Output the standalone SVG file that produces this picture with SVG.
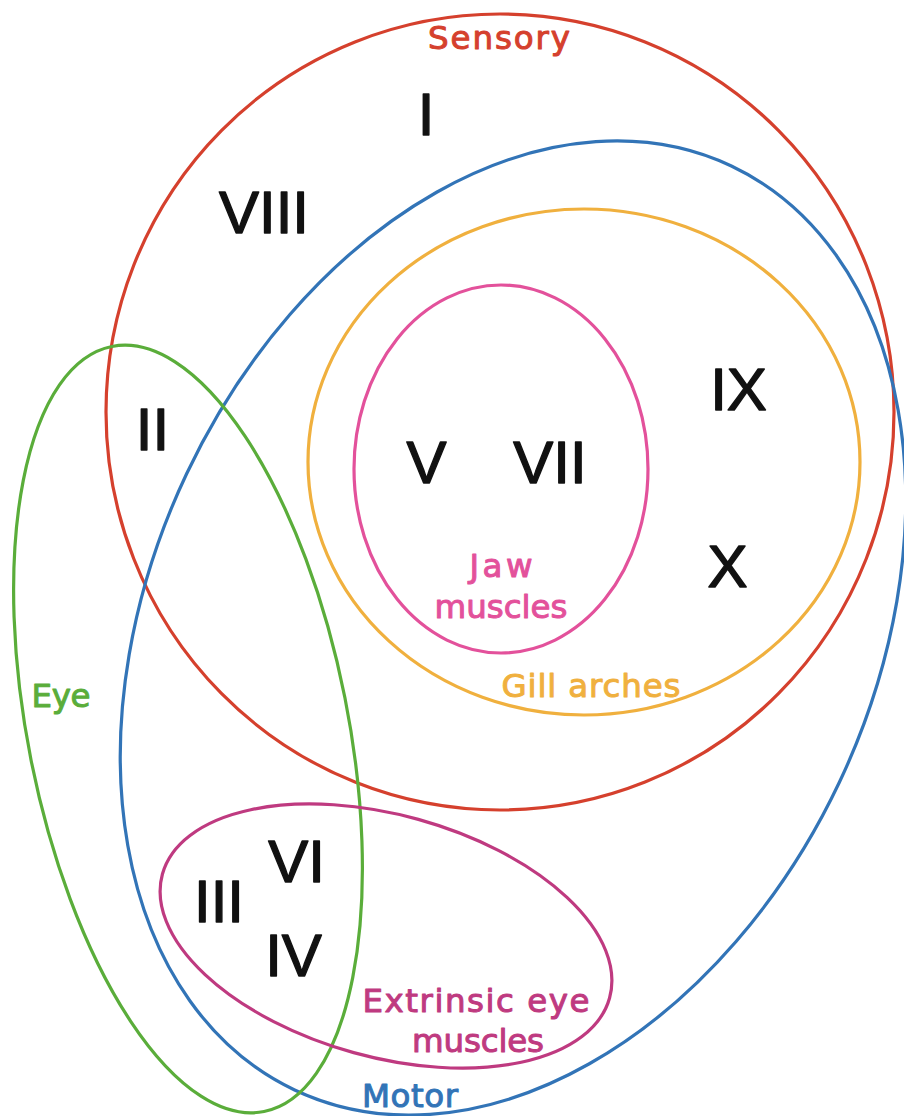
<svg xmlns="http://www.w3.org/2000/svg" width="904" height="1116" viewBox="0 0 904 1116">
<style>
.set{fill:none;stroke-width:3.2}
.num{font-family:"Liberation Sans",Arial,sans-serif;font-size:60px;fill:#111;stroke:#111;stroke-width:1.4;stroke-linejoin:round;text-anchor:middle}
.lab{font-family:"DejaVu Sans","Liberation Sans",sans-serif;font-size:32.5px;text-anchor:middle;stroke-width:1;stroke-linejoin:round}
</style>
<rect width="904" height="1116" fill="#fff"/>
<g id="sets">
<g id="sensory"><ellipse class="set" cx="500" cy="412" rx="394" ry="398" stroke="#d5402d"/><text class="lab" x="499" y="49" fill="#d5402d" stroke="#d5402d" textLength="142" lengthAdjust="spacing">Sensory</text></g>
<g id="motor"><ellipse class="set" cx="513" cy="628" rx="361" ry="511" transform="rotate(25.3 513 628)" stroke="#3274b7"/><text class="lab" x="410" y="1107" fill="#3274b7" stroke="#3274b7" textLength="96" lengthAdjust="spacing">Motor</text></g>
<g id="gill"><ellipse class="set" cx="584" cy="462" rx="276" ry="253" stroke="#f0b03e"/><text class="lab" x="591" y="697" fill="#f0b03e" stroke="#f0b03e" textLength="179" lengthAdjust="spacing">Gill arches</text></g>
<g id="jaw"><ellipse class="set" cx="501" cy="469" rx="147" ry="184" stroke="#e3519b"/><text class="lab" x="501" y="577" fill="#e3519b" stroke="#e3519b" textLength="63" lengthAdjust="spacing">Jaw</text><text class="lab" x="501" y="618" fill="#e3519b" stroke="#e3519b" textLength="133" lengthAdjust="spacing">muscles</text></g>
<g id="eye"><ellipse class="set" cx="188" cy="729" rx="160" ry="390" transform="rotate(-11.25 188 729)" stroke="#5aad3a"/><text class="lab" x="61" y="707" fill="#5aad3a" stroke="#5aad3a" textLength="59" lengthAdjust="spacing">Eye</text></g>
<g id="extrinsic"><ellipse class="set" cx="386" cy="936" rx="232" ry="121" transform="rotate(15.5 386 936)" stroke="#bf3a80"/><text class="lab" x="476" y="1012" fill="#bf3a80" stroke="#bf3a80" textLength="227" lengthAdjust="spacing">Extrinsic eye</text><text class="lab" x="478" y="1052" fill="#bf3a80" stroke="#bf3a80" textLength="132" lengthAdjust="spacing">muscles</text></g>
</g>
<g id="connectors"></g>
<g id="nerves">
<text class="num" x="426" y="135">I</text>
<text class="num" x="264" y="233">VIII</text>
<text class="num" x="152.5" y="450">II</text>
<text class="num" x="426.5" y="483">V</text>
<text class="num" x="550" y="483">VII</text>
<text class="num" x="738.5" y="410">IX</text>
<text class="num" x="727.5" y="587">X</text>
<text class="num" x="296.5" y="882">VI</text>
<text class="num" x="219" y="922">III</text>
<text class="num" x="293.5" y="976">IV</text>
</g>
</svg>
